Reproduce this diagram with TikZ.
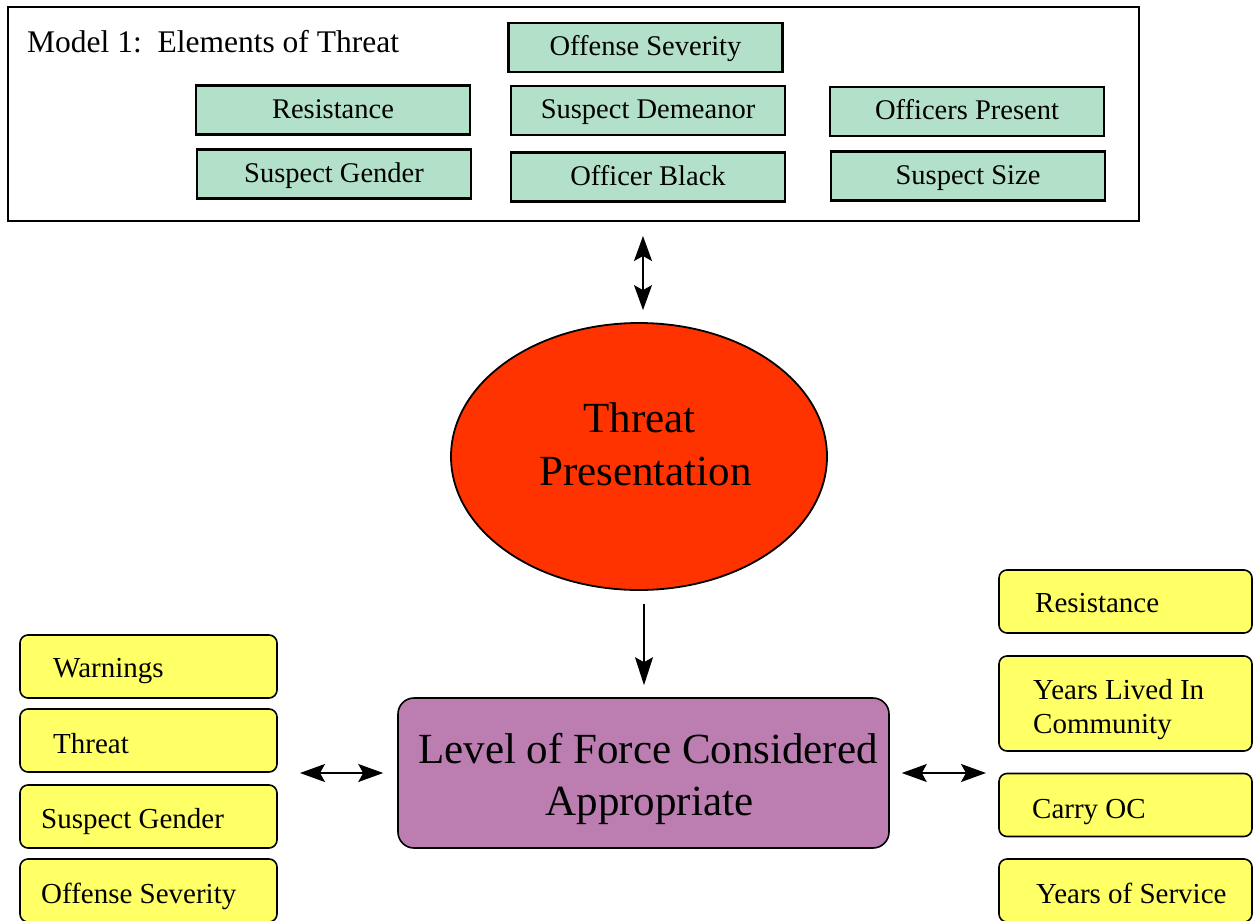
\documentclass[tikz,border=0pt]{standalone}
\usepackage{fontspec}
\setmainfont{Liberation Serif}
\usetikzlibrary{shapes.geometric,arrows.meta}
\definecolor{greenfill}{HTML}{B3E0C8}
\definecolor{yellowfill}{HTML}{FFFF66}
\definecolor{redfill}{HTML}{FF3300}
\definecolor{purplefill}{HTML}{BC7EB1}
\tikzset{
  gbox/.style={draw=black, line width=2.2pt, fill=greenfill, minimum width=274pt, minimum height=49pt, inner sep=0pt, text height=21pt, text depth=5pt, font=\fontsize{28.5}{33}\selectfont},
  ybox/.style={draw=black, line width=1.6pt, fill=yellowfill, rounded corners=8pt, minimum width=257pt, minimum height=63pt, inner sep=0pt},
  ytext/.style={anchor=base west, inner sep=0pt, font=\fontsize{29}{33}\selectfont},
  bigtext/.style={anchor=base, inner sep=0pt, font=\fontsize{43}{53}\selectfont},
  arrowtip/.style={},
  conn/.style={line width=1.5pt, {Stealth[length=25pt,width=18pt,inset=5pt]}-{Stealth[length=25pt,width=18pt,inset=5pt]}},
  conn1/.style={line width=1.5pt, -{Stealth[length=28pt,width=18pt,inset=5pt]}}
}
\begin{document}
\begin{tikzpicture}[x=1pt,y=-1pt]
\useasboundingbox (0,0) rectangle (1253,921);
% top frame
\node[draw=black, line width=2pt, minimum width=1131pt, minimum height=214pt, inner sep=0pt] (frame) at (573.5,114) {};
\node[anchor=base west, inner sep=0pt, font=\fontsize{31.5}{36}\selectfont] (title) at (27,52) {Model 1:\ \ Elements of Threat};
\node[gbox] (g1) at (645.5,47.5) {Offense Severity};
\node[gbox] (g2) at (333,110) {Resistance};
\node[gbox] (g3) at (648,110.5) {Suspect Demeanor};
\node[gbox] (g4) at (967,111.5) {Officers Present};
\node[gbox] (g5) at (334,174) {Suspect Gender};
\node[gbox] (g6) at (648,177) {Officer Black};
\node[gbox] (g7) at (968,176) {Suspect Size};
% ellipse
\node[ellipse, draw=black, line width=1.8pt, fill=redfill, minimum width=376pt, minimum height=267pt, inner sep=0pt] (threat) at (639,456.5) {};
\node[bigtext] (threat1) at (639.5,432) {Threat};
\node[bigtext] (threat2) at (645.5,485) {Presentation};
% purple box
\node[draw=black, line width=1.6pt, fill=purplefill, rounded corners=16pt, minimum width=491pt, minimum height=150pt, inner sep=0pt] (force) at (643.5,773) {};
\node[bigtext] (force1) at (648,763) {Level of Force Considered};
\node[bigtext] (force2) at (649.5,815) {Appropriate};
% left yellow boxes
\node[ybox] (l1) at (148.5,666.5) {};
\node[ybox] (l2) at (148.5,740.5) {};
\node[ybox] (l3) at (148.5,816.5) {};
\node[ybox] (l4) at (148.5,890.5) {};
\node[ytext] (l1t) at (53,677) {Warnings};
\node[ytext] (l2t) at (53,753) {Threat};
\node[ytext] (l3t) at (41,828) {Suspect Gender};
\node[ytext] (l4t) at (41,903) {Offense Severity};
% right yellow boxes
\node[ybox, minimum width=253pt] (r1) at (1125.5,601.5) {};
\node[ybox, minimum width=253pt, minimum height=95pt] (r2) at (1125.5,703.5) {};
\node[ybox, minimum width=253pt] (r3) at (1125.5,805) {};
\node[ybox, minimum width=253pt] (r4) at (1125.5,890.5) {};
\node[ytext] (r1t) at (1035,612) {Resistance};
\node[ytext] (r2t) at (1033,699) {Years Lived In};
\node[ytext] (r2u) at (1033,733) {Community};
\node[ytext] (r3t) at (1032,818) {Carry OC};
\node[ytext] (r4t) at (1036,903) {Years of Service};
% connector end points
\coordinate (lc) at (277,773);
\coordinate (rc) at (999,773);
\coordinate (ftop) at (643,221);
% connectors
\draw[conn, shorten <=15pt, shorten >=12pt] (ftop) -- (ftop |- threat.north);
\draw[conn1, shorten <=13pt, shorten >=12pt] ([xshift=5pt]threat.south) -- ([xshift=5pt]threat.south |- force.north);
\draw[conn, shorten <=23pt, shorten >=14pt] (lc) -- (force.west);
\draw[conn, shorten <=12pt, shorten >=13pt] (force.east) -- (rc);
\end{tikzpicture}
\end{document}
